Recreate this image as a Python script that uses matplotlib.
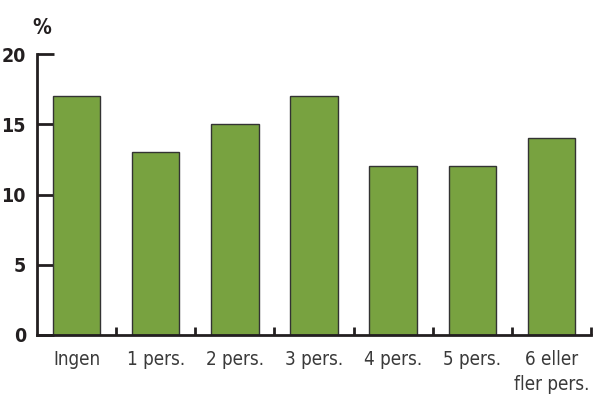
import matplotlib
matplotlib.use("Agg")
import matplotlib.pyplot as plt
import numpy as np

categories = ["Ingen", "1 pers.", "2 pers.", "3 pers.", "4 pers.", "5 pers.", "6 eller\nfler pers."]
values = [17, 13, 15, 17, 12, 12, 14]
yticks = [0, 5, 10, 15, 20]

fig = plt.figure(figsize=(5.93, 4.01), dpi=100)
ax = fig.add_axes([37/593, 1-335/401, (591-37)/593, (335-54)/401])

x = np.arange(len(categories))
ax.bar(x, values, width=0.6, color="#78a240", edgecolor="#333333", linewidth=1.0, zorder=2)

ax.set_xlim(-0.5, len(categories) - 0.5)
ax.set_ylim(0, 20)
for s in ["top", "right"]:
    ax.spines[s].set_visible(False)
for s in ["left", "bottom"]:
    ax.spines[s].set_linewidth(2.0)
    ax.spines[s].set_color("#231f20")
    ax.spines[s].set_zorder(3)

ax.set_yticks(yticks)
ax.set_yticklabels([str(v) for v in yticks], fontsize=14, fontweight="bold", fontstretch="condensed", color="#231f20")
ax.tick_params(axis="y", direction="in", length=12, width=2.0, color="#231f20", pad=8)

ax.set_xticks(x)
ax.set_xticklabels(categories, fontsize=13.5, fontstretch="condensed", color="#3a3a3a", linespacing=1.35)
ax.tick_params(axis="x", which="major", length=0, pad=11)
ax.set_xticks(x + 0.5, minor=True)
ax.tick_params(axis="x", which="minor", direction="in", length=6, width=2.0, color="#231f20")

fig.text(42/593, 1-28/401, "%", fontsize=15, fontweight="bold", fontstretch="condensed", color="#231f20", ha="center", va="center")

fig.savefig("out.png", dpi=100)
